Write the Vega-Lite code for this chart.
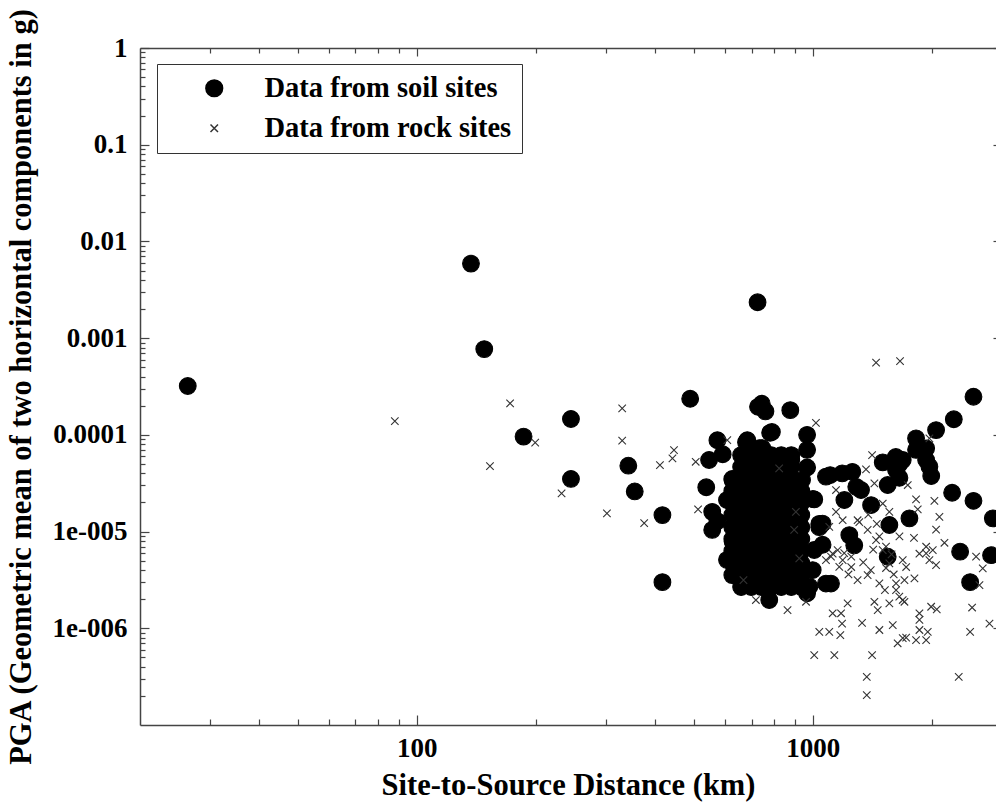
{
  "$schema": "https://vega.github.io/schema/vega-lite/v6.json",
  "width": 856,
  "height": 677,
  "autosize": {"type": "none"},
  "padding": {"left": 140, "top": 48, "right": 0, "bottom": 78},
  "background": "white",
  "config": {
    "view": {"stroke": null},
    "font": "Liberation Serif",
    "axis": {
      "labelFont": "Liberation Serif", "titleFont": "Liberation Serif",
      "labelFontWeight": "bold", "titleFontWeight": "bold",
      "labelColor": "#000", "titleColor": "#000",
      "domainColor": "#444", "tickColor": "#444",
      "domainWidth": 1.5, "tickWidth": 1.2, "grid": false
    },
    "legend": {
      "orient": "none", "legendX": 17, "legendY": 16,
      "strokeColor": "#333", "fillColor": "white", "padding": 10,
      "labelFont": "Liberation Serif", "labelFontSize": 28.5, "labelFontWeight": "bold",
      "labelColor": "#000", "symbolOffset": 33, "labelOffset": 36, "rowPadding": 11,
      "labelLimit": 500
    }
  },
  "layer": [
    {
      "data": {"values": [
        {"site":"soil","distance":26.4,"pga":3.2e-4},
        {"site":"soil","distance":137,"pga":5.9e-3},
        {"site":"soil","distance":148,"pga":7.7e-4},
        {"site":"soil","distance":186,"pga":9.6e-5},
        {"site":"soil","distance":245,"pga":1.46e-4},
        {"site":"soil","distance":245,"pga":3.5e-5},
        {"site":"soil","distance":342,"pga":4.8e-5},
        {"site":"soil","distance":355,"pga":2.6e-5},
        {"site":"soil","distance":417,"pga":1.48e-5},
        {"site":"soil","distance":417,"pga":3.0e-6},
        {"site":"soil","distance":490,"pga":2.36e-4},
        {"site":"soil","distance":725,"pga":2.35e-3},
        {"site":"soil","distance":727,"pga":1.95e-4},
        {"site":"soil","distance":759,"pga":1.75e-4},
        {"site":"soil","distance":743,"pga":2.1e-4},
        {"site":"soil","distance":877,"pga":1.8e-4},
        {"site":"soil","distance":788,"pga":1.07e-4},
        {"site":"soil","distance":967,"pga":1.0e-4},
        {"site":"soil","distance":574,"pga":8.8e-5},
        {"site":"soil","distance":683,"pga":8.8e-5},
        {"site":"soil","distance":745,"pga":7.3e-5},
        {"site":"soil","distance":592,"pga":6.3e-5},
        {"site":"soil","distance":547,"pga":5.5e-5},
        {"site":"soil","distance":882,"pga":5.5e-5},
        {"site":"soil","distance":967,"pga":7.0e-5},
        {"site":"soil","distance":967,"pga":4.6e-5},
        {"site":"soil","distance":683,"pga":5.1e-5},
        {"site":"soil","distance":1079,"pga":3.7e-5},
        {"site":"soil","distance":627,"pga":3.4e-5},
        {"site":"soil","distance":538,"pga":2.87e-5},
        {"site":"soil","distance":1000,"pga":2.17e-5},
        {"site":"soil","distance":913,"pga":2.69e-5},
        {"site":"soil","distance":607,"pga":2.12e-5},
        {"site":"soil","distance":557,"pga":1.6e-5},
        {"site":"soil","distance":574,"pga":1.28e-5},
        {"site":"soil","distance":1038,"pga":1.2e-5},
        {"site":"soil","distance":607,"pga":5.1e-6},
        {"site":"soil","distance":776,"pga":1.96e-6},
        {"site":"soil","distance":967,"pga":2.3e-6},
        {"site":"soil","distance":1079,"pga":2.9e-6},
        {"site":"soil","distance":634,"pga":3.2e-5},
        {"site":"soil","distance":627,"pga":7.9e-6},
        {"site":"soil","distance":557,"pga":1.04e-5},
        {"site":"soil","distance":780,"pga":1.05e-4},
        {"site":"soil","distance":678,"pga":8.4e-5},
        {"site":"soil","distance":732,"pga":7.3e-5},
        {"site":"soil","distance":659,"pga":6.17e-5},
        {"site":"soil","distance":659,"pga":4.65e-5},
        {"site":"soil","distance":659,"pga":3.5e-5},
        {"site":"soil","distance":659,"pga":2.63e-5},
        {"site":"soil","distance":659,"pga":1.97e-5},
        {"site":"soil","distance":659,"pga":1.48e-5},
        {"site":"soil","distance":659,"pga":1.11e-5},
        {"site":"soil","distance":659,"pga":8.37e-6},
        {"site":"soil","distance":659,"pga":6.29e-6},
        {"site":"soil","distance":659,"pga":4.72e-6},
        {"site":"soil","distance":659,"pga":3.55e-6},
        {"site":"soil","distance":659,"pga":2.67e-6},
        {"site":"soil","distance":699,"pga":6.17e-5},
        {"site":"soil","distance":699,"pga":4.65e-5},
        {"site":"soil","distance":699,"pga":3.5e-5},
        {"site":"soil","distance":699,"pga":2.63e-5},
        {"site":"soil","distance":699,"pga":1.97e-5},
        {"site":"soil","distance":699,"pga":1.48e-5},
        {"site":"soil","distance":699,"pga":1.11e-5},
        {"site":"soil","distance":699,"pga":8.37e-6},
        {"site":"soil","distance":699,"pga":6.29e-6},
        {"site":"soil","distance":699,"pga":4.72e-6},
        {"site":"soil","distance":699,"pga":3.55e-6},
        {"site":"soil","distance":699,"pga":2.67e-6},
        {"site":"soil","distance":741,"pga":6.17e-5},
        {"site":"soil","distance":741,"pga":4.65e-5},
        {"site":"soil","distance":741,"pga":3.5e-5},
        {"site":"soil","distance":741,"pga":2.63e-5},
        {"site":"soil","distance":741,"pga":1.97e-5},
        {"site":"soil","distance":741,"pga":1.48e-5},
        {"site":"soil","distance":741,"pga":1.11e-5},
        {"site":"soil","distance":741,"pga":8.37e-6},
        {"site":"soil","distance":741,"pga":6.29e-6},
        {"site":"soil","distance":741,"pga":4.72e-6},
        {"site":"soil","distance":741,"pga":3.55e-6},
        {"site":"soil","distance":741,"pga":2.67e-6},
        {"site":"soil","distance":785,"pga":6.17e-5},
        {"site":"soil","distance":785,"pga":4.65e-5},
        {"site":"soil","distance":785,"pga":3.5e-5},
        {"site":"soil","distance":785,"pga":2.63e-5},
        {"site":"soil","distance":785,"pga":1.97e-5},
        {"site":"soil","distance":785,"pga":1.48e-5},
        {"site":"soil","distance":785,"pga":1.11e-5},
        {"site":"soil","distance":785,"pga":8.37e-6},
        {"site":"soil","distance":785,"pga":6.29e-6},
        {"site":"soil","distance":785,"pga":4.72e-6},
        {"site":"soil","distance":785,"pga":3.55e-6},
        {"site":"soil","distance":785,"pga":2.67e-6},
        {"site":"soil","distance":832,"pga":6.17e-5},
        {"site":"soil","distance":832,"pga":4.65e-5},
        {"site":"soil","distance":832,"pga":3.5e-5},
        {"site":"soil","distance":832,"pga":2.63e-5},
        {"site":"soil","distance":832,"pga":1.97e-5},
        {"site":"soil","distance":832,"pga":1.48e-5},
        {"site":"soil","distance":832,"pga":1.11e-5},
        {"site":"soil","distance":832,"pga":8.37e-6},
        {"site":"soil","distance":832,"pga":6.29e-6},
        {"site":"soil","distance":832,"pga":4.72e-6},
        {"site":"soil","distance":832,"pga":3.55e-6},
        {"site":"soil","distance":832,"pga":2.67e-6},
        {"site":"soil","distance":882,"pga":6.17e-5},
        {"site":"soil","distance":882,"pga":4.65e-5},
        {"site":"soil","distance":882,"pga":3.5e-5},
        {"site":"soil","distance":882,"pga":2.63e-5},
        {"site":"soil","distance":882,"pga":1.97e-5},
        {"site":"soil","distance":882,"pga":1.48e-5},
        {"site":"soil","distance":882,"pga":1.11e-5},
        {"site":"soil","distance":882,"pga":8.37e-6},
        {"site":"soil","distance":882,"pga":6.29e-6},
        {"site":"soil","distance":882,"pga":4.72e-6},
        {"site":"soil","distance":882,"pga":3.55e-6},
        {"site":"soil","distance":882,"pga":2.67e-6},
        {"site":"soil","distance":626,"pga":3.5e-5},
        {"site":"soil","distance":626,"pga":2.63e-5},
        {"site":"soil","distance":626,"pga":1.97e-5},
        {"site":"soil","distance":626,"pga":1.48e-5},
        {"site":"soil","distance":626,"pga":1.11e-5},
        {"site":"soil","distance":626,"pga":8.37e-6},
        {"site":"soil","distance":626,"pga":6.29e-6},
        {"site":"soil","distance":626,"pga":4.72e-6},
        {"site":"soil","distance":626,"pga":3.55e-6},
        {"site":"soil","distance":935,"pga":2.63e-5},
        {"site":"soil","distance":935,"pga":1.97e-5},
        {"site":"soil","distance":935,"pga":1.48e-5},
        {"site":"soil","distance":935,"pga":1.11e-5},
        {"site":"soil","distance":935,"pga":8.37e-6},
        {"site":"soil","distance":935,"pga":6.29e-6},
        {"site":"soil","distance":935,"pga":4.72e-6},
        {"site":"soil","distance":935,"pga":3.55e-6},
        {"site":"soil","distance":935,"pga":2.67e-6},
        {"site":"soil","distance":1106,"pga":3.84e-5},
        {"site":"soil","distance":1186,"pga":4.0e-5},
        {"site":"soil","distance":1258,"pga":4.15e-5},
        {"site":"soil","distance":1287,"pga":2.9e-5},
        {"site":"soil","distance":1323,"pga":2.69e-5},
        {"site":"soil","distance":1201,"pga":2.12e-5},
        {"site":"soil","distance":1403,"pga":1.88e-5},
        {"site":"soil","distance":1236,"pga":9.2e-6},
        {"site":"soil","distance":1272,"pga":7.2e-6},
        {"site":"soil","distance":1111,"pga":2.9e-6},
        {"site":"soil","distance":1501,"pga":5.2e-5},
        {"site":"soil","distance":1620,"pga":5.9e-5},
        {"site":"soil","distance":1654,"pga":5.0e-5},
        {"site":"soil","distance":1822,"pga":7.0e-5},
        {"site":"soil","distance":1932,"pga":5.5e-5},
        {"site":"soil","distance":1822,"pga":9.2e-5},
        {"site":"soil","distance":1932,"pga":7.25e-5},
        {"site":"soil","distance":1969,"pga":4.7e-5},
        {"site":"soil","distance":1990,"pga":3.75e-5},
        {"site":"soil","distance":1686,"pga":5.5e-5},
        {"site":"soil","distance":1622,"pga":4.33e-5},
        {"site":"soil","distance":1654,"pga":3.6e-5},
        {"site":"soil","distance":1545,"pga":3.03e-5},
        {"site":"soil","distance":1560,"pga":1.17e-5},
        {"site":"soil","distance":1753,"pga":1.37e-5},
        {"site":"soil","distance":1545,"pga":5.5e-6},
        {"site":"soil","distance":2047,"pga":1.12e-4},
        {"site":"soil","distance":2269,"pga":1.45e-4},
        {"site":"soil","distance":2544,"pga":2.48e-4},
        {"site":"soil","distance":2247,"pga":2.52e-5},
        {"site":"soil","distance":2544,"pga":2.08e-5},
        {"site":"soil","distance":2847,"pga":1.37e-5},
        {"site":"soil","distance":2354,"pga":6.2e-6},
        {"site":"soil","distance":2495,"pga":3.0e-6},
        {"site":"soil","distance":2818,"pga":5.7e-6},
        {"site":"soil","distance":1058,"pga":7.3e-6},
        {"site":"soil","distance":1008,"pga":6.45e-6},
        {"site":"soil","distance":999,"pga":4.0e-6},
        {"site":"soil","distance":980,"pga":2.7e-6},
        {"site":"soil","distance":1008,"pga":2.15e-5},
        {"site":"soil","distance":1038,"pga":1.11e-5},
        {"site":"soil","distance":939,"pga":3.41e-5},
        {"site":"soil","distance":1058,"pga":1.21e-5},
        {"site":"rock","distance":88,"pga":1.39e-4},
        {"site":"rock","distance":172,"pga":2.12e-4},
        {"site":"rock","distance":199,"pga":8.3e-5},
        {"site":"rock","distance":153,"pga":4.76e-5},
        {"site":"rock","distance":232,"pga":2.48e-5},
        {"site":"rock","distance":330,"pga":1.88e-4},
        {"site":"rock","distance":330,"pga":8.7e-5},
        {"site":"rock","distance":302,"pga":1.54e-5},
        {"site":"rock","distance":375,"pga":1.22e-5},
        {"site":"rock","distance":411,"pga":4.87e-5},
        {"site":"rock","distance":442,"pga":5.7e-5},
        {"site":"rock","distance":446,"pga":6.96e-5},
        {"site":"rock","distance":506,"pga":5.27e-5},
        {"site":"rock","distance":513,"pga":1.7e-5},
        {"site":"rock","distance":608,"pga":8.83e-5},
        {"site":"rock","distance":668,"pga":3.15e-6},
        {"site":"rock","distance":718,"pga":1.96e-6},
        {"site":"rock","distance":863,"pga":1.54e-6},
        {"site":"rock","distance":961,"pga":1.88e-6},
        {"site":"rock","distance":1018,"pga":1.33e-4},
        {"site":"rock","distance":1444,"pga":5.57e-4},
        {"site":"rock","distance":1660,"pga":5.8e-4},
        {"site":"rock","distance":1969,"pga":9.2e-5},
        {"site":"rock","distance":1411,"pga":6.18e-5},
        {"site":"rock","distance":1362,"pga":4.4e-5},
        {"site":"rock","distance":822,"pga":4.5e-5},
        {"site":"rock","distance":906,"pga":1.6e-5},
        {"site":"rock","distance":897,"pga":1.04e-5},
        {"site":"rock","distance":924,"pga":5.28e-6},
        {"site":"rock","distance":1079,"pga":5.07e-6},
        {"site":"rock","distance":1822,"pga":2.15e-5},
        {"site":"rock","distance":2027,"pga":2.08e-5},
        {"site":"rock","distance":1840,"pga":1.7e-5},
        {"site":"rock","distance":2087,"pga":1.42e-5},
        {"site":"rock","distance":2047,"pga":1.05e-5},
        {"site":"rock","distance":2149,"pga":7.66e-6},
        {"site":"rock","distance":1932,"pga":5.94e-6},
        {"site":"rock","distance":2047,"pga":4.5e-6},
        {"site":"rock","distance":1805,"pga":3.28e-6},
        {"site":"rock","distance":1703,"pga":3.15e-6},
        {"site":"rock","distance":2583,"pga":5.5e-6},
        {"site":"rock","distance":2685,"pga":4.16e-6},
        {"site":"rock","distance":2634,"pga":2.8e-6},
        {"site":"rock","distance":2524,"pga":1.64e-6},
        {"site":"rock","distance":2495,"pga":9.2e-7},
        {"site":"rock","distance":2792,"pga":1.12e-6},
        {"site":"rock","distance":2335,"pga":3.15e-7},
        {"site":"rock","distance":1008,"pga":5.28e-7},
        {"site":"rock","distance":1133,"pga":5.28e-7},
        {"site":"rock","distance":1411,"pga":5.28e-7},
        {"site":"rock","distance":1368,"pga":3.15e-7},
        {"site":"rock","distance":1368,"pga":2.04e-7},
        {"site":"rock","distance":1038,"pga":9.2e-7},
        {"site":"rock","distance":1100,"pga":9.2e-7},
        {"site":"rock","distance":1173,"pga":8.5e-7},
        {"site":"rock","distance":1122,"pga":1.43e-6},
        {"site":"rock","distance":1178,"pga":1.43e-6},
        {"site":"rock","distance":1185,"pga":1.12e-6},
        {"site":"rock","distance":1224,"pga":1.81e-6},
        {"site":"rock","distance":1331,"pga":1.14e-6},
        {"site":"rock","distance":1430,"pga":1.88e-6},
        {"site":"rock","distance":1458,"pga":1.54e-6},
        {"site":"rock","distance":1472,"pga":9.6e-7},
        {"site":"rock","distance":1560,"pga":1.81e-6},
        {"site":"rock","distance":1591,"pga":1.08e-6},
        {"site":"rock","distance":1622,"pga":2.48e-6},
        {"site":"rock","distance":1686,"pga":1.96e-6},
        {"site":"rock","distance":1637,"pga":7.0e-7},
        {"site":"rock","distance":1686,"pga":7.9e-7},
        {"site":"rock","distance":1720,"pga":8.0e-7},
        {"site":"rock","distance":1822,"pga":7.55e-7},
        {"site":"rock","distance":1932,"pga":7.55e-7},
        {"site":"rock","distance":1858,"pga":9.6e-7},
        {"site":"rock","distance":1950,"pga":9.2e-7},
        {"site":"rock","distance":1858,"pga":1.43e-6},
        {"site":"rock","distance":1858,"pga":1.22e-6},
        {"site":"rock","distance":1989,"pga":1.67e-6},
        {"site":"rock","distance":2055,"pga":1.57e-6},
        {"site":"rock","distance":1111,"pga":5.5e-6},
        {"site":"rock","distance":1155,"pga":6.44e-6},
        {"site":"rock","distance":1189,"pga":5.07e-6},
        {"site":"rock","distance":1166,"pga":4.32e-6},
        {"site":"rock","distance":1297,"pga":3.15e-6},
        {"site":"rock","distance":1472,"pga":2.91e-6},
        {"site":"rock","distance":1622,"pga":2.91e-6},
        {"site":"rock","distance":1560,"pga":4.69e-6},
        {"site":"rock","distance":1686,"pga":5.07e-6},
        {"site":"rock","distance":1430,"pga":3.15e-5},
        {"site":"rock","distance":1501,"pga":1.95e-5},
        {"site":"rock","distance":1560,"pga":1.6e-5},
        {"site":"rock","distance":1297,"pga":1.31e-5},
        {"site":"rock","distance":1375,"pga":1.04e-5},
        {"site":"rock","distance":1444,"pga":8.17e-6},
        {"site":"rock","distance":1501,"pga":6.44e-6},
        {"site":"rock","distance":1100,"pga":1.12e-5},
        {"site":"rock","distance":1189,"pga":1.31e-5},
        {"site":"rock","distance":1144,"pga":2.69e-5},
        {"site":"rock","distance":1736,"pga":3.03e-5},
        {"site":"rock","distance":1932,"pga":6.97e-6},
        {"site":"rock","distance":2008,"pga":6.44e-6},
        {"site":"rock","distance":1969,"pga":5.07e-6},
        {"site":"rock","distance":1653,"pga":2.12e-6},
        {"site":"rock","distance":1703,"pga":1.88e-6},
        {"site":"rock","distance":1375,"pga":3.55e-6},
        {"site":"rock","distance":1520,"pga":2.48e-6},
        {"site":"rock","distance":1530,"pga":4.2e-6},
        {"site":"rock","distance":1800,"pga":8.6e-6},
        {"site":"rock","distance":1144,"pga":1.6e-5},
        {"site":"rock","distance":1310,"pga":1.25e-5},
        {"site":"rock","distance":1472,"pga":8.9e-6},
        {"site":"rock","distance":1530,"pga":7.0e-6},
        {"site":"rock","distance":1122,"pga":5.9e-6},
        {"site":"rock","distance":1250,"pga":4.3e-6},
        {"site":"rock","distance":1654,"pga":8.9e-6},
        {"site":"rock","distance":1720,"pga":4.3e-6},
        {"site":"rock","distance":1858,"pga":5.9e-6},
        {"site":"rock","distance":1200,"pga":6.0e-6},
        {"site":"rock","distance":1250,"pga":5.5e-6},
        {"site":"rock","distance":1230,"pga":3.6e-6},
        {"site":"rock","distance":1340,"pga":4.8e-6},
        {"site":"rock","distance":1400,"pga":4.0e-6},
        {"site":"rock","distance":1420,"pga":6.5e-6},
        {"site":"rock","distance":1600,"pga":3.6e-6},
        {"site":"rock","distance":1580,"pga":5.8e-6},
        {"site":"rock","distance":1450,"pga":1.2e-5},
        {"site":"rock","distance":1380,"pga":1.5e-5}
      ]},
      "mark": {"type": "point", "opacity": 1, "strokeWidth": 1.1},
      "encoding": {
        "x": {
          "field": "distance", "type": "quantitative",
          "scale": {"type": "log", "domain": [20, 2900], "nice": false},
          "axis": {
            "orient": "bottom", "title": "Site-to-Source Distance (km)",
            "values": [100, 1000], "labelOverlap": false, "labelFlush": false,
            "format": "d", "tickSize": -10,
            "labelPadding": 20.5, "labelFontSize": 27,
            "titleFontSize": 30.5, "titleY": 69, "titleBaseline": "alphabetic"
          }
        },
        "y": {
          "field": "pga", "type": "quantitative",
          "scale": {"type": "log", "domain": [1e-7, 1], "nice": false},
          "axis": {
            "orient": "left", "title": "PGA (Geometric mean of two horizontal components in g)",
            "values": [1e-6, 1e-5, 1e-4, 0.001, 0.01, 0.1, 1], "labelOverlap": false, "labelFlush": false,
            "labelExpr": "datum.value < 5e-6 ? '1e-006' : datum.value < 5e-5 ? '1e-005' : format(datum.value, '~g')",
            "tickSize": -9,
            "labelPadding": 22, "labelFontSize": 27,
            "titleFontSize": 30.5, "titleX": -110, "titleBaseline": "alphabetic", "titleAngle": 270
          }
        },
        "shape": {"field": "site", "type": "nominal",
          "scale": {"domain": ["soil", "rock"], "range": ["circle", "M-1,-1L1,1M1,-1L-1,1"]},
          "legend": {"title": null, "labelExpr": "datum.label == 'soil' ? 'Data from soil sites' : 'Data from rock sites'"}},
        "size": {"field": "site", "type": "nominal",
          "scale": {"domain": ["soil", "rock"], "range": [280, 56]},
          "legend": {"title": null, "labelExpr": "datum.label == 'soil' ? 'Data from soil sites' : 'Data from rock sites'"}},
        "fill": {"field": "site", "type": "nominal",
          "scale": {"domain": ["soil", "rock"], "range": ["#000000", "transparent"]},
          "legend": {"title": null, "labelExpr": "datum.label == 'soil' ? 'Data from soil sites' : 'Data from rock sites'"}},
        "stroke": {"field": "site", "type": "nominal",
          "scale": {"domain": ["soil", "rock"], "range": ["#000000", "#333333"]},
          "legend": {"title": null, "labelExpr": "datum.label == 'soil' ? 'Data from soil sites' : 'Data from rock sites'"}}
      }
    },
    {
      "data": {"values": [{"distance": 100, "pga": 0.001}]},
      "mark": {"type": "point", "opacity": 0},
      "encoding": {
        "x": {
          "field": "distance", "type": "quantitative",
          "scale": {"type": "log", "domain": [20, 2900], "nice": false},
          "axis": {
            "orient": "bottom", "title": null, "labels": false, "domain": false,
            "values": [30, 40, 50, 60, 70, 80, 90, 200, 300, 400, 500, 600, 700, 800, 900, 2000],
            "tickSize": -6
          }
        },
        "y": {
          "field": "pga", "type": "quantitative",
          "scale": {"type": "log", "domain": [1e-7, 1], "nice": false},
          "axis": {
            "orient": "left", "title": null, "labels": false, "domain": false,
            "values": [2e-7, 3e-7, 4e-7, 5e-7, 6e-7, 7e-7, 8e-7, 9e-7,
                       2e-6, 3e-6, 4e-6, 5e-6, 6e-6, 7e-6, 8e-6, 9e-6,
                       2e-5, 3e-5, 4e-5, 5e-5, 6e-5, 7e-5, 8e-5, 9e-5,
                       2e-4, 3e-4, 4e-4, 5e-4, 6e-4, 7e-4, 8e-4, 9e-4,
                       0.002, 0.003, 0.004, 0.005, 0.006, 0.007, 0.008, 0.009,
                       0.02, 0.03, 0.04, 0.05, 0.06, 0.07, 0.08, 0.09,
                       0.2, 0.3, 0.4, 0.5, 0.6, 0.7, 0.8, 0.9],
            "tickSize": -5
          }
        }
      }
    },
    {
      "data": {"values": [{"distance": 100, "pga": 0.001}]},
      "mark": {"type": "point", "opacity": 0},
      "encoding": {
        "x": {
          "field": "distance", "type": "quantitative",
          "scale": {"type": "log", "domain": [20, 2900], "nice": false},
          "axis": {
            "orient": "top", "title": null, "labels": false,
            "values": [100, 1000], "tickSize": -8
          }
        },
        "y": {
          "field": "pga", "type": "quantitative",
          "scale": {"type": "log", "domain": [1e-7, 1], "nice": false},
          "axis": {
            "orient": "right", "title": null, "labels": false, "domain": false,
            "values": [1e-6, 1e-5, 1e-4, 0.001, 0.01, 0.1, 1],
            "tickSize": -3
          }
        }
      }
    },
    {
      "data": {"values": [{"distance": 100, "pga": 0.001}]},
      "mark": {"type": "point", "opacity": 0},
      "encoding": {
        "x": {
          "field": "distance", "type": "quantitative",
          "scale": {"type": "log", "domain": [20, 2900], "nice": false},
          "axis": {
            "orient": "top", "title": null, "labels": false, "domain": false,
            "values": [30, 40, 50, 60, 70, 80, 90, 200, 300, 400, 500, 600, 700, 800, 900, 2000],
            "tickSize": -5
          }
        },
        "y": {
          "field": "pga", "type": "quantitative",
          "scale": {"type": "log", "domain": [1e-7, 1], "nice": false},
          "axis": null
        }
      }
    }
  ],
  "resolve": {"axis": {"x": "independent", "y": "independent"}}
}
